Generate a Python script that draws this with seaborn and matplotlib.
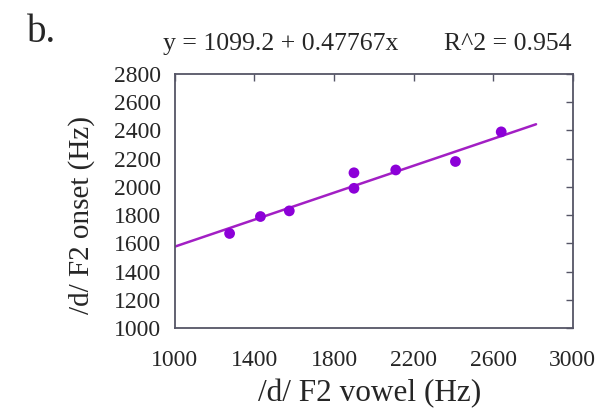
import matplotlib
matplotlib.use("Agg")
import matplotlib.pyplot as plt
import numpy as np
import pandas as pd
import seaborn as sns

# Measured F2 values for /d/ (Hz)
f2_vowel = [1275, 1430, 1575, 1900, 1900, 2110, 2410, 2640]
f2_onset = [1670, 1790, 1830, 2100, 1990, 2120, 2180, 2390]

# Locus equation coefficients
intercept = 1099.2
slope = 0.47767
r_squared = 0.954
fit_range = [1000, 2815]

x_ticks = [1000, 1400, 1800, 2200, 2600, 3000]
y_ticks = [1000, 1200, 1400, 1600, 1800, 2000, 2200, 2400, 2600, 2800]

sns.set_theme(style="white")
plt.rcParams["font.family"] = ["Liberation Serif", "DejaVu Serif"]

points = pd.DataFrame({"vowel": f2_vowel, "onset": f2_onset})
fit_x = np.array(fit_range, dtype=float)
fit = pd.DataFrame({"vowel": fit_x, "onset": intercept + slope * fit_x})

fig = plt.figure(figsize=(6.03, 4.15), dpi=100)
ax = fig.add_axes([0.290, 0.2096, 0.660, 0.6121])

sns.lineplot(data=fit, x="vowel", y="onset", ax=ax, color="#a21fc4", linewidth=1.8)
sns.scatterplot(data=points, x="vowel", y="onset", ax=ax, color="#8c00d8",
                s=60, edgecolor="none", zorder=3)

ax.set_xlim(1000, 3000)
ax.set_ylim(1000, 2800)
ax.set_xticks(x_ticks)
ax.set_yticks(y_ticks)
ax.tick_params(direction="in", length=5, width=1.0, color="#555566",
               labelsize=17, top=True, right=True)
ax.tick_params(axis="x", pad=16)
ax.tick_params(axis="y", pad=10)
for spine in ax.spines.values():
    spine.set_color("#555566")
    spine.set_linewidth(1.3)

ax.set_xlabel("/d/ F2 vowel (Hz)", fontsize=22.5)
ax.set_ylabel("/d/ F2 onset (Hz)", fontsize=21)
ax.xaxis.set_label_coords(0.49, -0.2)
ax.yaxis.set_label_coords(-0.2, 0.445)

fig.text(0.045, 0.899, "b.", fontsize=28, ha="left", va="baseline")
fig.text(163 / 603, 1 - 50 / 415, f"y = {intercept} + {slope}x",
         fontsize=18.5, ha="left", va="baseline")
fig.text(572 / 603, 1 - 50 / 415, f"R^2 = {r_squared}",
         fontsize=18.5, ha="right", va="baseline")

fig.savefig("out.png", dpi=100)
